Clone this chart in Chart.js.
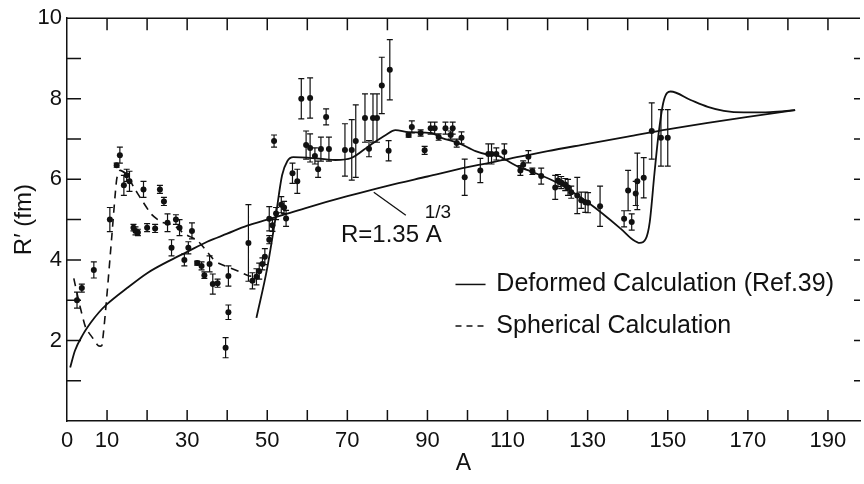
<!DOCTYPE html>
<html>
<head>
<meta charset="utf-8">
<script src="https://cdn.jsdelivr.net/npm/chart.js@4"></script>
<style>
  html, body { margin: 0; padding: 0; background: #fff; }
  canvas { display: block; }
</style>
</head>
<body>
<canvas id="chart" width="864" height="484"></canvas>
<script>
// measured R' values with errors
const measuredA = [2.5, 3.7, 6.7, 10.7, 12.4, 13.2, 14.2, 14.9, 15.6, 16.6, 17.1, 17.7, 19.1, 20.0, 22.0, 23.2, 24.2, 25.1, 26.1, 27.2,
  28.1, 29.3, 30.3, 31.2, 32.5, 33.6, 34.3, 35.6, 36.4, 37.6, 40.3, 40.3, 39.6, 45.3, 46.3, 47.3, 48.0, 48.8, 49.4, 50.5,
  50.5, 51.3, 51.7, 52.2, 53.5, 54.2, 54.7, 56.3, 57.5, 58.5, 60.7, 59.7, 60.7, 61.9, 62.7, 63.4, 64.7, 65.4, 69.4, 71.1,
  72.1, 74.4, 75.4, 76.4, 77.4, 78.6, 80.6, 80.3, 85.3, 86.1, 88.3, 89.3, 90.8, 91.8, 92.8, 94.5, 95.8, 96.3, 97.3, 98.5,
  99.3, 103.2, 105.2, 106.0, 107.2, 109.2, 113.2, 113.9, 115.2, 116.2, 118.4, 121.9, 122.6, 123.4, 124.4, 125.1, 125.9, 127.4, 128.4, 129.4,
  130.1, 133.1, 139.1, 140.1, 141.0, 142.0, 142.4, 144.0, 146.0, 148.3, 150.0];
const measuredR = [3.0, 3.3, 3.75, 5.0, 6.35, 6.6, 5.85, 6.1, 5.95, 4.8, 4.72, 4.68, 5.75, 4.8, 4.78, 5.75, 5.45, 4.92, 4.3, 5.0,
  4.8, 4.0, 4.3, 4.72, 3.92, 3.85, 3.62, 3.9, 3.4, 3.42, 3.6, 2.7, 1.82, 4.42, 3.48, 3.58, 3.72, 3.9, 4.08, 4.5,
  5.02, 4.86, 6.95, 5.15, 5.37, 5.3, 5.03, 6.15, 5.95, 8.0, 8.02, 6.85, 6.78, 6.58, 6.25, 6.75, 7.55, 6.75, 6.73, 6.73,
  6.95, 7.52, 6.76, 7.52, 7.52, 8.33, 8.72, 6.71, 7.1, 7.3, 7.15, 6.72, 7.27, 7.27, 7.05, 7.27, 7.1, 7.27, 6.9, 7.03,
  6.05, 6.22, 6.63, 6.63, 6.63, 6.68, 6.22, 6.36, 6.56, 6.2, 6.08, 5.8, 5.97, 5.92, 5.87, 5.8, 5.68, 5.6, 5.48, 5.43,
  5.42, 5.33, 5.02, 5.72, 4.94, 5.65, 5.95, 6.04, 7.2, 7.03, 7.03];
const measuredErr = [0.2, 0.1, 0.2, 0.3, 0.05, 0.2, 0.25, 0.15, 0.25, 0.08, 0.1, 0.08, 0.2, 0.1, 0.1, 0.1, 0.1, 0.22, 0.2, 0.12,
  0.2, 0.15, 0.15, 0.2, 0.05, 0.1, 0.08, 0.2, 0.25, 0.1, 0.25, 0.18, 0.25, 0.95, 0.2, 0.2, 0.2, 0.15, 0.2, 0.1,
  0.3, 0.15, 0.15, 0.15, 0.2, 0.15, 0.2, 0.25, 0.3, 0.5, 0.5, 0.35, 0.35, 0.2, 0.2, 0.3, 0.2, 0.3, 0.65, 0.75,
  0.9, 0.6, 0.2, 0.6, 0.6, 0.7, 0.75, 0.25, 0.05, 0.15, 0.08, 0.1, 0.15, 0.15, 0.08, 0.15, 0.1, 0.15, 0.1, 0.15,
  0.45, 0.3, 0.25, 0.25, 0.15, 0.2, 0.12, 0.1, 0.15, 0.08, 0.2, 0.3, 0.15, 0.15, 0.15, 0.2, 0.15, 0.45, 0.2, 0.25,
  0.25, 0.5, 0.2, 0.5, 0.2, 0.3, 0.7, 0.5, 0.7, 0.7, 0.7];

// spherical calculation (dashed)
const sphericalA = [1.7, 3.0, 4.7, 6.5, 7.8, 8.7, 9.9, 11.2, 12.4, 13.2, 14.9, 16.7, 18.7, 21.1, 23.6, 26.6, 29.4, 32.3, 33.6, 36.4, 38.0, 43.0, 45.5, 46.8];
const sphericalR = [3.54, 2.95, 2.31, 2.05, 1.87, 1.87, 3.05, 4.6, 6.0, 6.22, 6.12, 5.8, 5.48, 5.13, 4.94, 4.86, 4.64, 4.5, 4.37, 4.03, 3.91, 3.71, 3.6, 3.6];

// deformed calculation, Ref. 39 (solid)
const deformedA = [47.3, 50.0, 52.0, 53.7, 55.0, 56.5, 60.0, 67.0, 71.0, 75.4, 79.6, 82.0, 85.3, 91.0, 93.5, 97.8, 102.0, 105.2, 107.7, 109.4,
  112.7, 116.0, 121.9, 130.0, 138.3, 141.3, 143.0, 144.5, 145.5, 146.7, 147.8, 149.0, 150.7, 155.7, 160.0, 164.0, 169.0, 175.6, 181.8];
const deformedR = [2.56, 3.8, 5.0, 6.1, 6.45, 6.55, 6.54, 6.48, 6.53, 6.83, 7.1, 7.22, 7.17, 7.15, 7.03, 6.9, 6.7, 6.61, 6.58, 6.49,
  6.31, 6.19, 5.94, 5.43, 4.77, 4.5, 4.42, 4.52, 4.94, 6.17, 7.2, 7.95, 8.18, 7.97, 7.8, 7.7, 7.66, 7.67, 7.72];

// R = 1.35 A^(1/3)
const powerA = [0.8, 2, 4, 6, 8, 10, 15, 20, 25, 30, 35, 40, 45, 50, 55, 60, 70, 80, 90, 100, 110, 120, 130, 140, 150, 160, 170, 181.8];
const powerR = [1.33, 1.75, 2.15, 2.45, 2.7, 2.9, 3.3, 3.67, 3.95, 4.2, 4.45, 4.65, 4.85, 5.0, 5.15, 5.3, 5.58, 5.84, 6.07, 6.3, 6.5, 6.7, 6.88, 7.06, 7.24, 7.4, 7.55, 7.72];

const xTickLabels = [0, 10, 30, 50, 70, 90, 110, 130, 150, 170, 190];
const yTickLabels = [2, 4, 6, 8, 10];

const ink = '#111';
Chart.defaults.font.family = "'Liberation Sans', Arial, sans-serif";
Chart.defaults.color = ink;

const toXY = (xs, ys) => xs.map((a, i) => ({ x: a, y: ys[i] }));

const errorBars = {
  id: 'errorBars',
  beforeDatasetsDraw(chart) {
    const { ctx, scales: { x, y } } = chart;
    ctx.save();
    ctx.strokeStyle = ink;
    ctx.lineWidth = 1.2;
    ctx.beginPath();
    measuredA.forEach((a, i) => {
      const px = x.getPixelForValue(a);
      const top = y.getPixelForValue(measuredR[i] + measuredErr[i]);
      const bot = y.getPixelForValue(measuredR[i] - measuredErr[i]);
      ctx.moveTo(px, top); ctx.lineTo(px, bot);
      ctx.moveTo(px - 3, top); ctx.lineTo(px + 3, top);
      ctx.moveTo(px - 3, bot); ctx.lineTo(px + 3, bot);
    });
    ctx.stroke();
    ctx.restore();
  }
};

// top frame line and inward tick marks on all four sides
const frame = {
  id: 'frame',
  afterDraw(chart) {
    const { ctx, chartArea: a, scales: { x, y } } = chart;
    ctx.save();
    ctx.strokeStyle = ink;
    ctx.lineWidth = 1.5;
    ctx.beginPath();
    ctx.moveTo(a.left, a.top); ctx.lineTo(a.right, a.top);
    x.ticks.forEach(t => {
      if (t.value <= 0) return;
      const px = x.getPixelForValue(t.value);
      ctx.moveTo(px, a.bottom); ctx.lineTo(px, a.bottom - 11);
      ctx.moveTo(px, a.top); ctx.lineTo(px, a.top + 12);
    });
    y.ticks.forEach(t => {
      if (t.value <= 0 || t.value >= 10) return;
      const py = y.getPixelForValue(t.value);
      ctx.moveTo(a.left, py); ctx.lineTo(a.left + 14, py);
      ctx.moveTo(a.right, py); ctx.lineTo(a.right - 6, py);
    });
    ctx.stroke();
    ctx.restore();
  }
};

// curve label and legend, placed in data coordinates
const notes = {
  id: 'notes',
  afterDraw(chart) {
    const { ctx, scales: { x, y } } = chart;
    ctx.save();
    ctx.strokeStyle = ink;
    ctx.fillStyle = ink;
    ctx.lineWidth = 1.3;
    ctx.beginPath();
    ctx.moveTo(x.getPixelForValue(76.6), y.getPixelForValue(5.68));
    ctx.lineTo(x.getPixelForValue(84.6), y.getPixelForValue(5.11));
    ctx.stroke();
    ctx.textBaseline = 'middle';
    ctx.font = "24px 'Liberation Sans', Arial, sans-serif";
    ctx.fillText('R=1.35 A', x.getPixelForValue(68.4), y.getPixelForValue(4.62));
    ctx.font = "19px 'Liberation Sans', Arial, sans-serif";
    ctx.fillText('1/3', x.getPixelForValue(89.3), y.getPixelForValue(5.16));

    ctx.font = "25px 'Liberation Sans', Arial, sans-serif";
    const x0 = x.getPixelForValue(97), x1 = x.getPixelForValue(104.5), xt = x.getPixelForValue(107.2);
    const y0 = y.getPixelForValue(3.39), y1 = y.getPixelForValue(2.36);
    ctx.lineWidth = 1.5;
    ctx.beginPath(); ctx.moveTo(x0, y0); ctx.lineTo(x1, y0); ctx.stroke();
    ctx.setLineDash([6, 5]);
    ctx.beginPath(); ctx.moveTo(x0, y1); ctx.lineTo(x1, y1); ctx.stroke();
    ctx.setLineDash([]);
    ctx.fillText('Deformed Calculation (Ref.39)', xt, y0);
    ctx.fillText('Spherical Calculation', xt, y1);
    ctx.restore();
  }
};

new Chart(document.getElementById('chart'), {
  type: 'scatter',
  data: {
    datasets: [
      {
        label: 'R = 1.35 A^1/3',
        data: toXY(powerA, powerR),
        showLine: true, pointRadius: 0, borderColor: ink, borderWidth: 1.8,
        cubicInterpolationMode: 'monotone'
      },
      {
        label: 'Deformed Calculation (Ref.39)',
        data: toXY(deformedA, deformedR),
        showLine: true, pointRadius: 0, borderColor: ink, borderWidth: 1.8,
        cubicInterpolationMode: 'monotone'
      },
      {
        label: 'Spherical Calculation',
        data: toXY(sphericalA, sphericalR),
        showLine: true, pointRadius: 0, borderColor: ink, borderWidth: 1.6,
        borderDash: [8, 6], tension: 0.2
      },
      {
        label: 'Measured',
        data: toXY(measuredA, measuredR),
        pointRadius: 3, pointBackgroundColor: ink, pointBorderColor: ink, pointBorderWidth: 0
      }
    ]
  },
  options: {
    responsive: false,
    animation: false,
    devicePixelRatio: 1,
    layout: { padding: { top: 14, right: 0, left: 0, bottom: 0 } },
    plugins: { legend: { display: false }, tooltip: { enabled: false } },
    scales: {
      x: {
        type: 'linear', min: 0, max: 198,
        afterFit(s) { s.height = 63; },
        grid: { display: false, drawTicks: false },
        border: { display: true, color: ink, width: 1.5 },
        ticks: {
          stepSize: 10, includeBounds: false, autoSkip: false, maxRotation: 0, padding: 7,
          font: { size: 22 },
          callback: v => xTickLabels.includes(v) ? String(v) : ''
        },
        title: { display: true, text: 'A', font: { size: 23 }, padding: { top: 0, bottom: 7 } }
      },
      y: {
        type: 'linear', min: 0, max: 10,
        afterFit(s) { s.width = 67; },
        grid: { display: false, drawTicks: false },
        border: { display: true, color: ink, width: 1.5 },
        ticks: {
          stepSize: 1, autoSkip: false, padding: 5,
          font: { size: 22 },
          callback: v => yTickLabels.includes(v) ? String(v) : ''
        },
        title: { display: true, text: 'R′ (fm)', font: { size: 24 }, padding: { top: 10, bottom: 0 } }
      }
    }
  },
  plugins: [errorBars, frame, notes]
});
</script>
</body>
</html>
